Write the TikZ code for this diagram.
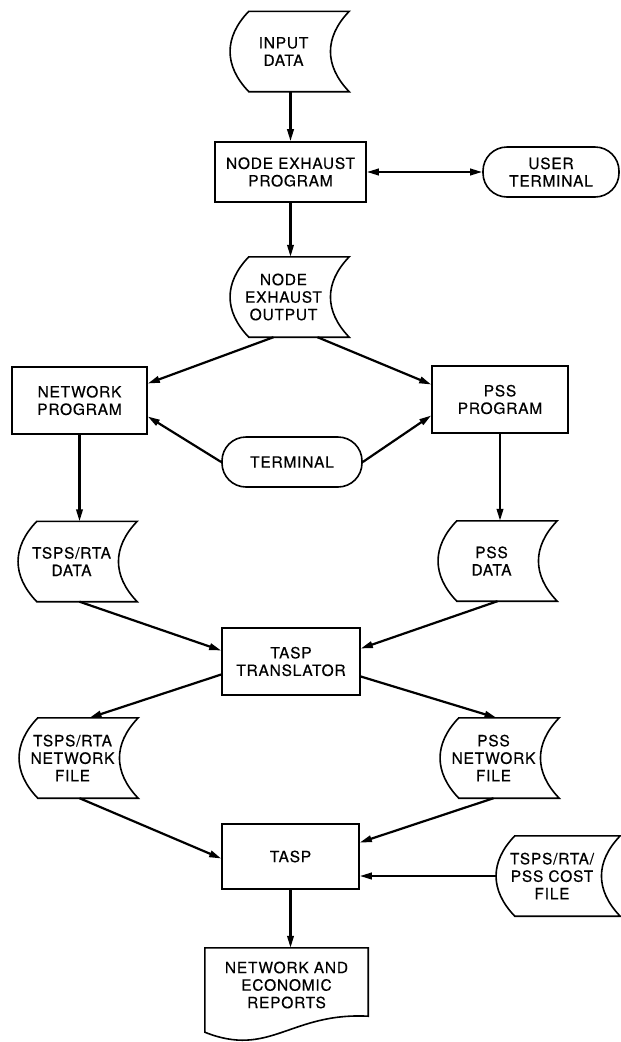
\documentclass[tikz,border=0pt]{standalone}
\usepackage{fontspec}
\setmainfont{TeX Gyre Heros}[LetterSpace=5,FakeBold=0.4]
\usetikzlibrary{arrows.meta}
\begin{document}
\begin{tikzpicture}[x=1pt,y=-1pt,
  every node/.style={font=\fontsize{15.5}{17.5}\selectfont, align=center, inner sep=0pt},
  outline/.style={line width=1.6pt},
  procbox/.style={draw, outline, rectangle, minimum width=136pt, minimum height=67pt},
  termbox/.style={draw, outline, rectangle, rounded corners=24pt, minimum width=140pt, minimum height=50pt},
  % stored-data symbol: convex left side, concave right side
  storedbox/.style={minimum width=107pt, minimum height=80pt,
    append after command={\pgfextra{%
      \draw[outline, line join=miter]
        ([xshift=12pt]\tikzlastnode.north east)
        .. controls ([xshift=-13pt,yshift=-26pt]\tikzlastnode.north east)
               and ([xshift=-13pt,yshift=26pt]\tikzlastnode.south east)
        .. ([xshift=12pt]\tikzlastnode.south east)
        -- ([xshift=19pt]\tikzlastnode.south west)
        .. controls ([xshift=-6pt,yshift=26pt]\tikzlastnode.south west)
               and ([xshift=-6pt,yshift=-26pt]\tikzlastnode.north west)
        .. ([xshift=19pt]\tikzlastnode.north west) -- cycle;}}},
  % document symbol with a wavy lower edge
  docbox/.style={minimum width=163pt, minimum height=74pt,
    append after command={\pgfextra{%
      \draw[outline, line join=miter]
        (\tikzlastnode.north west) -- (\tikzlastnode.north east)
        -- ([yshift=6pt]\tikzlastnode.south east)
        .. controls ([xshift=-78pt,yshift=10pt]\tikzlastnode.south east)
               and ([xshift=65pt,yshift=-36pt]\tikzlastnode.south west)
        .. ([yshift=-10pt]\tikzlastnode.south west) -- cycle;}}},
  conn/.style={line width=2.2pt, -{Triangle[length=12pt,width=6.5pt]}},
  bothconn/.style={line width=2.2pt, {Triangle[length=12pt,width=6.5pt]}-{Triangle[length=12pt,width=6.5pt]}}
]
\useasboundingbox (0,0) rectangle (621,1042);

% nodes
\node[storedbox] (in)   at (283.5,51.5) {INPUT\\DATA};
\node[procbox, minimum width=151pt, minimum height=60pt] (nep) at (290.5,172) {NODE EXHAUST\\PROGRAM};
\node[termbox, minimum width=136pt] (ut) at (551,172) {USER\\TERMINAL};
\node[storedbox] (neo)  at (283.5,297) {NODE\\EXHAUST\\OUTPUT};
\node[procbox, minimum width=135pt] (np) at (79.5,400.5) {NETWORK\\PROGRAM};
\node[procbox] (pss) at (500,399.5) {PSS\\PROGRAM};
\node[termbox] (term) at (292,462) {TERMINAL};
\node[storedbox] (trd)  at (71.5,561.5) {TSPS/RTA\\DATA};
\node[storedbox] (pd)   at (491.5,561) {PSS\\DATA};
\node[procbox, minimum width=138pt] (tt) at (291,661.5) {TASP\\TRANSLATOR};
\node[storedbox] (tnf)  at (72.5,758) {TSPS/RTA\\NETWORK\\FILE};
\node[storedbox] (pnf)  at (493.5,758) {PSS\\NETWORK\\FILE};
\node[procbox, minimum width=137pt, minimum height=65pt] (tasp) at (290.5,856.5) {TASP};
\node[storedbox, minimum width=112pt] (cost) at (552,876) {TSPS/RTA/\\PSS COST\\FILE};
\node[docbox] (rep) at (286.5,985) {NETWORK AND\\ECONOMIC\\REPORTS};

% connectors
\draw[conn] (in.south -| nep.north) -- (nep.north);
\draw[bothconn] (nep.east) -- (ut.west);
\draw[conn] (nep.south) -- (nep.south |- neo.north);
\draw[conn] ([xshift=-10pt]neo.south) -- ([yshift=17pt]np.east);
\draw[conn] ([xshift=34pt]neo.south) -- ([yshift=15pt]pss.west);
\draw[conn] (term.west) -- ([yshift=-16pt]np.east);
\draw[conn] (term.east) -- ([yshift=-16pt]pss.west);
\draw[conn] (np.south) -- (np.south |- trd.north);
\draw[conn] (pss.south) -- (pss.south |- pd.north);
\draw[conn] ([xshift=8pt]trd.south) -- ([yshift=11pt]tt.west);
\draw[conn] ([xshift=6pt]pd.south) -- ([yshift=13pt]tt.east);
\draw[conn] ([yshift=-13pt]tt.west) -- ([xshift=17pt]tnf.north);
\draw[conn] ([yshift=-15pt]tt.east) -- ([xshift=3pt]pnf.north);
\draw[conn] ([xshift=7pt]tnf.south) -- ([yshift=-2pt]tasp.west);
\draw[conn] (pnf.south) -- ([yshift=14pt]tasp.east);
\draw[conn] (cost.west) -- (cost.west -| tasp.east);
\draw[conn] (tasp.south) -- (tasp.south |- rep.north);
\end{tikzpicture}
\end{document}
